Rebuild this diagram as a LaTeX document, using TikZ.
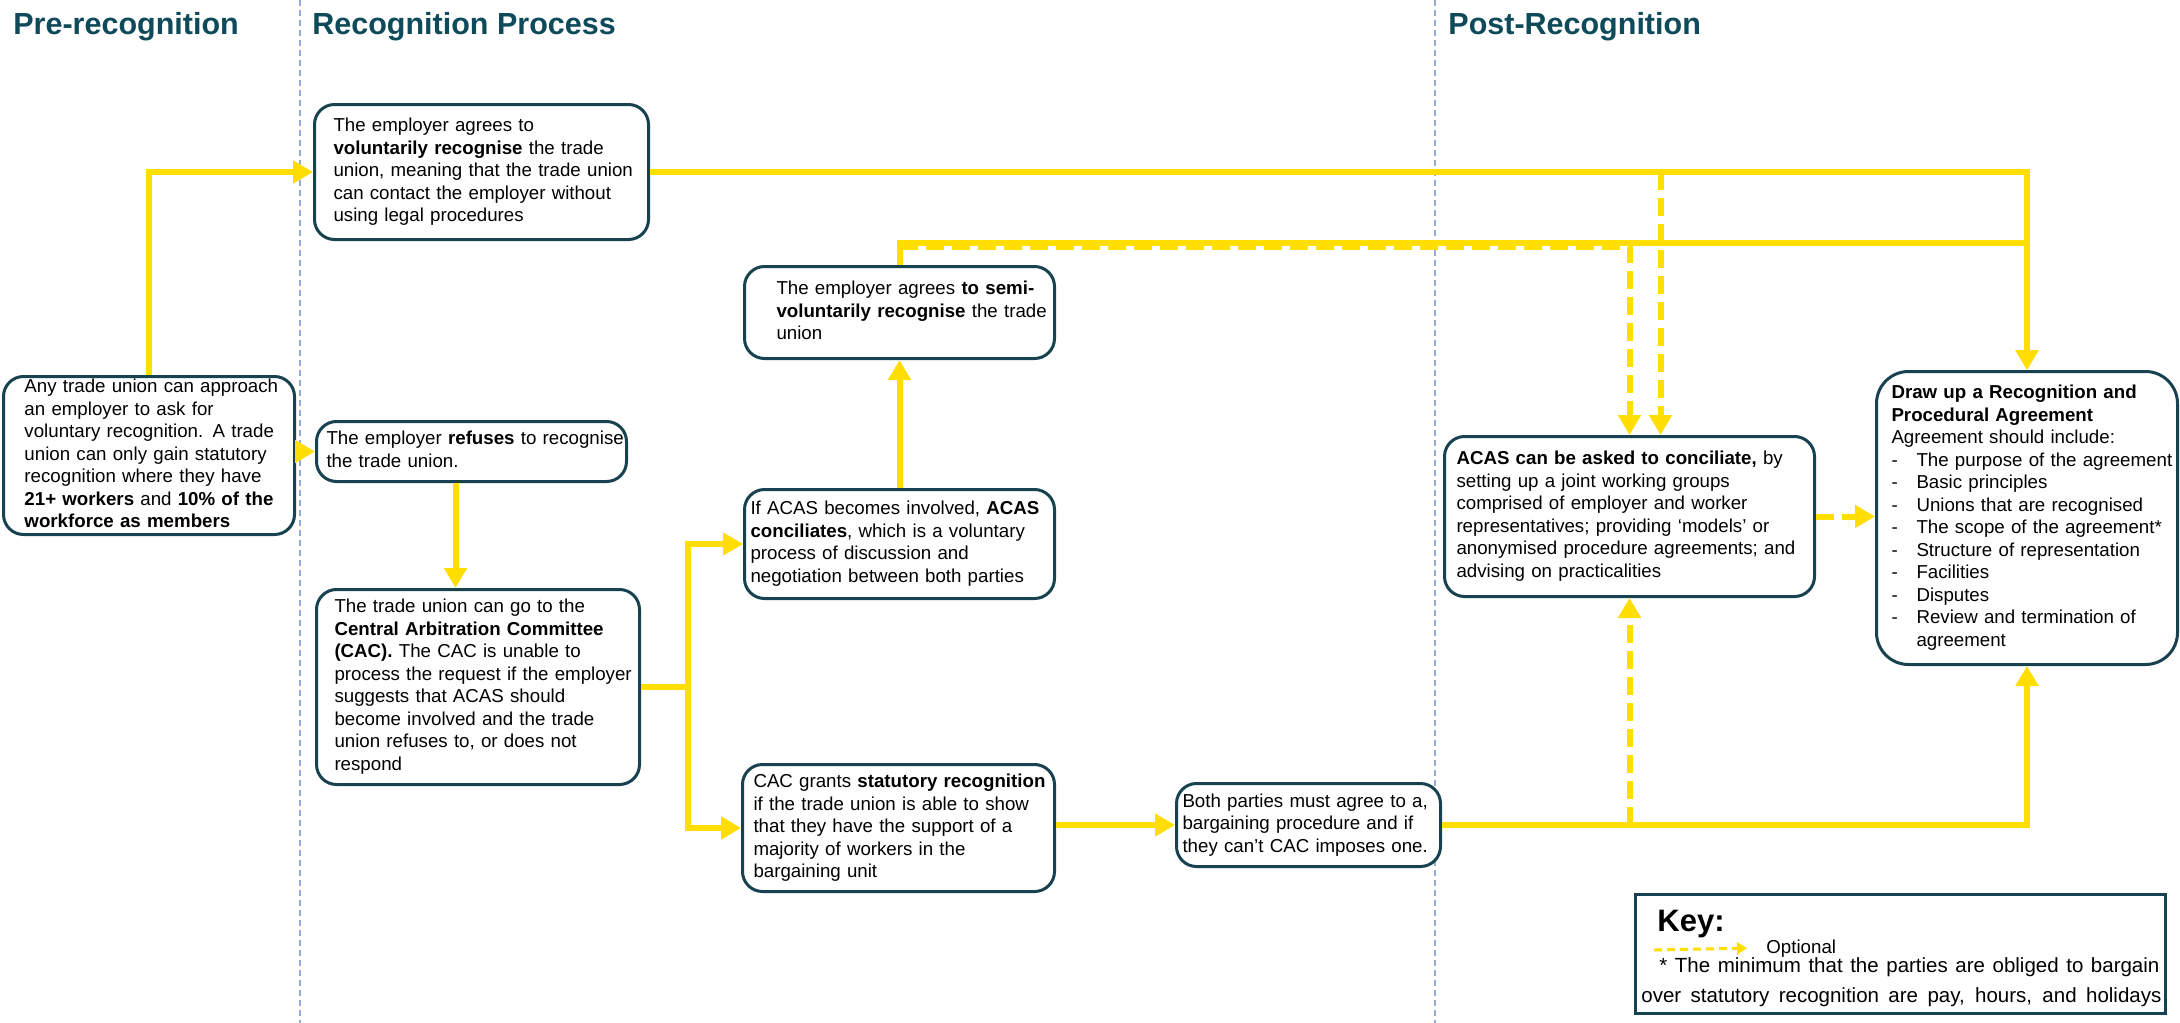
\documentclass[tikz,border=0pt]{standalone}
\usepackage{fontspec}
\setmainfont{Liberation Sans}
\usetikzlibrary{arrows.meta}

\definecolor{ukyellow}{RGB}{255,222,0}
\definecolor{boxteal}{RGB}{24,66,80}
\definecolor{headteal}{RGB}{14,74,90}
\definecolor{sepblue}{RGB}{150,170,212}

\newcommand{\boxfont}{\fontsize{9.35}{11.25}\selectfont}
\newcommand{\headfont}{\fontsize{15.25}{18}\selectfont\bfseries}
\newcommand{\keyfont}{\fontsize{10.25}{13}\selectfont}
\newcommand{\lns}[1]{\begin{tabular}{@{}l@{}}#1\end{tabular}}
\newcommand{\itm}{\makebox[12.5pt][l]{-}}

\tikzset{
  stage/.style={draw=boxteal, line width=1.5pt, rounded corners=10pt, fill=white, anchor=north west, align=left, inner ysep=0pt, font=\boxfont},
  flow/.style={draw=ukyellow, line width=3pt, -{Triangle[width=11pt,length=10pt]}},
  optflow/.style={flow, dash pattern=on 9pt off 4pt},
  header/.style={anchor=base west, inner sep=0pt, text=headteal, font=\headfont},
  sep/.style={draw=sepblue, line width=0.6pt, dash pattern=on 3pt off 2pt},
}

\begin{document}
\begin{tikzpicture}[x=0.5pt,y=0.5pt,yscale=-1,xscale=1]
	\fill[white] (0,0) rectangle (2180,1023);
	\useasboundingbox (0,0) rectangle (2180,1023);
	
	%Dashed separators
	\draw[sep] (300,0) -- (300,1023);
	\draw[sep] (1435,0) -- (1435,1023);
	
	% Column headers
	\node[header] (pre) at (13,34) {Pre-recognition};
	\node[header] (process) at (312,34) {Recognition Process};
	\node[header] (post) at (1448,34) {Post-Recognition};
	
	%Rounded Rect: pre-recognition
	\node[stage, minimum width=145.5pt, minimum height=79pt, inner xsep=10.5pt, text width=124.5pt] (approach) at (2,375)
	{\lns{Any trade union can approach\\ an employer to ask for\\ voluntary recognition. A trade\\ union can only gain statutory\\ recognition where they have\\ \textbf{21+ workers} and \textbf{10\% of the}\\ \textbf{workforce as members}}};
	
	%Rounded Rect: recognition process
	\node[stage, minimum width=167pt, minimum height=67.5pt, inner xsep=9.5pt, text width=148pt] (voluntary) at (313,103)
	{\lns{The employer agrees to\\ \textbf{voluntarily recognise} the trade\\ union, meaning that the trade union\\ can contact the employer without\\ using legal procedures}};
	\node[stage, minimum width=155pt, minimum height=30pt, inner xsep=5pt, text width=145pt] (refuses) at (315,420)
	{\lns{The employer \textbf{refuses} to recognise\\ the trade union.}};
	\node[stage, minimum width=161.5pt, minimum height=97.5pt, inner xsep=9pt, text width=143.5pt] (cac) at (315,588)
	{\lns{The trade union can go to the\\ \textbf{Central Arbitration Committee}\\ \textbf{(CAC).} The CAC is unable to\\ process the request if the employer\\ suggests that ACAS should\\ become involved and the trade\\ union refuses to, or does not\\ respond}};
	\node[stage, minimum width=155pt, minimum height=46pt, inner xsep=16pt, text width=123pt] (semi) at (743,265)
	{\lns{The employer agrees \textbf{to semi-}\\ \textbf{voluntarily recognise} the trade\\ union}};
	\node[stage, minimum width=155pt, minimum height=54.5pt, inner xsep=3pt, text width=149pt] (conciliates) at (743,488)
	{\lns{If ACAS becomes involved, \textbf{ACAS}\\ \textbf{conciliates}, which is a voluntary\\ process of discussion and\\ negotiation between both parties}};
	\node[stage, minimum width=156pt, minimum height=63.5pt, inner xsep=5.5pt, text width=145pt] (statutory) at (741,763)
	{\lns{CAC grants \textbf{statutory recognition}\\ if the trade union is able to show\\ that they have the support of a\\ majority of workers in the\\ bargaining unit}};
	\node[stage, minimum width=132pt, minimum height=41.5pt, inner xsep=3pt, text width=126pt] (bargaining) at (1175,782)
	{\lns{Both parties must agree to a,\\ bargaining procedure and if\\ they can’t CAC imposes one.}};
	
	%Rounded Rect: post-recognition
	\node[stage, minimum width=185pt, minimum height=80pt, inner xsep=6pt, text width=173pt] (acas) at (1443,435)
	{\lns{\textbf{ACAS can be asked to conciliate,} by\\ setting up a joint working groups\\ comprised of employer and worker\\ representatives; providing ‘models’ or\\ anonymised procedure agreements; and\\ advising on practicalities}};
	\node[stage, rounded corners=16pt, minimum width=150.5pt, minimum height=146.5pt, inner xsep=7.5pt, text width=135.5pt] (agreement) at (1875,370)
	{\lns{\textbf{Draw up a Recognition and}\\ \textbf{Procedural Agreement}\\ Agreement should include:\\ \itm The purpose of the agreement\\ \itm Basic principles\\ \itm Unions that are recognised\\ \itm The scope of the agreement*\\ \itm Structure of representation\\ \itm Facilities\\ \itm Disputes\\ \itm Review and termination of\\ \hspace*{12.5pt}agreement}};
	
	%Straight Lines
	\draw[flow] (approach.north) |- (voluntary.west);
	\draw[flow] (approach.east |- refuses.west) -- (refuses.west);
	\draw[flow] ([xshift=-8pt]refuses.south) -- ([xshift=-8pt]refuses.south |- cac.north);
	\draw[flow] (cac.east) -- ++(47,0) |- (conciliates.west);
	\draw[flow] (cac.east) -- ++(47,0) |- (statutory.west);
	\draw[flow] (conciliates.north) -- (semi.south);
	\draw[flow] (statutory.east |- bargaining.west) -- (bargaining.west);
	\coordinate (semitop) at ([yshift=-11pt]semi.north);
	\draw[optflow] ([yshift=2pt]semitop) -| (acas.north);
	\draw[optflow] ([xshift=15.5pt]acas.north |- voluntary.east) -- ([xshift=15.5pt]acas.north);
	\draw[flow] (semi.north) -- (semitop) -| (agreement.north);
	\draw[flow] (voluntary.east) -| (agreement.north);
	\draw[optflow] (acas.south |- bargaining.east) -- (acas.south);
	\draw[flow] (bargaining.east) -| (agreement.south);
	\draw[optflow] (acas.east) -- (acas.east -| agreement.west);
	
	% Key
	\node[draw=boxteal, line width=1.5pt, anchor=north west, minimum width=265pt, minimum height=59.5pt, inner sep=0pt] (key) at (1634,893) {};
	\node[anchor=base west, inner sep=0pt, font=\fontsize{15.5}{18}\selectfont\bfseries] (keytitle) at (1657,931) {Key:};
	\coordinate (keyfrom) at (1654,950);
	\node[anchor=base west, inner sep=0pt, font=\boxfont] (optional) at (1766,953) {Optional};
	\draw[draw=ukyellow, line width=1.5pt, dash pattern=on 4pt off 2.5pt, -{Triangle[width=6pt,length=5pt]}] (keyfrom) -- ([xshift=-9.5pt]optional.west);
	\node[anchor=base west, inner sep=0pt, font=\keyfont] (minimum) at (1659,972) {\makebox[250pt][s]{* The minimum that the parties are obliged to bargain}};
	\node[anchor=base west, inner sep=0pt, font=\keyfont] (holidays) at (1641,1002) {\makebox[260pt][s]{over statutory recognition are pay, hours, and holidays}};
	
\end{tikzpicture}
\end{document}
